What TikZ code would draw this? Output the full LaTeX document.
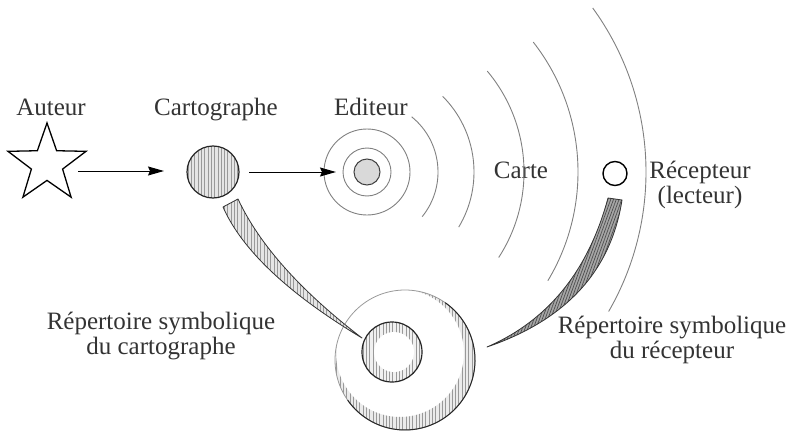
\documentclass[tikz,border=0pt]{standalone}
\usepackage{fontspec}
\setmainfont{Liberation Serif}
\usetikzlibrary{shapes.geometric,arrows.meta,patterns.meta}
\tikzset{
  lbl/.style={font=\fontsize{25}{25}\selectfont, text=black!80, inner sep=0pt, align=center, anchor=base},
  flow/.style={line width=1pt, -{Stealth[length=16pt,width=9pt,inset=2pt]}},
  wave/.style={draw=black!50, line width=0.9pt},
  vhatch/.style={pattern={Lines[angle=90,distance=3.3pt,line width=0.6pt]}, pattern color=black!40},
  dhatch/.style={pattern={Lines[angle=70,distance=2.6pt,line width=0.7pt]}, pattern color=black!70},
}
\begin{document}
\begin{tikzpicture}[x=1pt,y=-1pt]
\useasboundingbox (0,0) rectangle (789,433);
% labels
\node[lbl] (tauteur) at (51,116) {Auteur};
\node[lbl] (tcarto) at (216,116) {Cartographe};
\node[lbl] (tedit) at (371,116) {Editeur};
\node[lbl] (tcarte) at (521,178) {Carte};
\node[lbl] (trecep) at (700,203) {Récepteur\\(lecteur)};
\node[lbl] (trepc) at (161,354) {Répertoire symbolique\\du cartographe};
\node[lbl] (trepr) at (672,358) {Répertoire symbolique\\du récepteur};
% star
\node[star, star points=5, star point ratio=2.5, minimum size=82pt, inner sep=0pt, draw=black, line width=1.3pt] (auteur) at (47,164) {};
% cartographe
\node[circle, minimum size=52pt, inner sep=0pt, fill=black!10] (cartobg) at (213,172) {};
\node[circle, minimum size=52pt, inner sep=0pt, vhatch, draw=black!85, line width=1.2pt] (carto) at (213,172) {};
% editeur
\node[circle, minimum size=86pt, inner sep=0pt, wave] (edring2) at (367,172) {};
\node[circle, minimum size=48pt, inner sep=0pt, wave] (edring1) at (367,172) {};
\node[circle, minimum size=26pt, inner sep=0pt, fill=black!15, draw=black!75, line width=1pt] (edit) at (367,172) {};
\draw[wave] (edit.center) ++(-51:71) arc[start angle=-51, end angle=39, radius=71];
\draw[wave] (edit.center) ++(-45:107) arc[start angle=-45, end angle=31, radius=107];
\draw[wave] (edit.center) ++(-40:157) arc[start angle=-40, end angle=33, radius=157];
\draw[wave] (edit.center) ++(-38:211) arc[start angle=-38, end angle=31, radius=211];
\draw[wave] (edit.center) ++(-36:279) arc[start angle=-36, end angle=30, radius=279];
% recepteur
\node[circle, minimum size=24pt, inner sep=0pt, draw=black, line width=1.4pt] (recep) at (615,173.5) {};
% arrows
\coordinate (a1s) at (78,171);
\coordinate (a1e) at (164,171);
\coordinate (a2s) at (249,172);
\coordinate (a2e) at (336,172);
\draw[flow] (a1s) -- (a1e);
\draw[flow] (a2s) -- (a2e);
% repertoire
\node[circle, minimum size=140pt, inner sep=0pt, fill=white] (rep) at (405,360) {};
\begin{scope}
\clip (rep.center) circle[radius=70];
\fill[even odd rule, black!8] (rep.center) circle[radius=71] (400,353) circle[radius=64];
\fill[even odd rule, vhatch] (rep.center) circle[radius=71] (400,353) circle[radius=64];
\end{scope}
\draw[black!40, line width=0.8pt] (rep.center) circle[radius=70];
\draw[black!85, line width=1pt] (rep.center) ++(-55:70) arc[start angle=-55, end angle=145, radius=70];
\node[circle, minimum size=60pt, inner sep=0pt, fill=black!6] (repinbg) at (392,352) {};
\node[circle, minimum size=60pt, inner sep=0pt, vhatch, draw=black!85, line width=1.2pt] (repin) at (392,352) {};
\fill[white] (394,352) circle[radius=20];
% wedges
\coordinate (lw1) at (223,207);
\coordinate (lw2) at (238,199);
\coordinate (lwt) at (362,338);
\fill[black!10] (lw1) .. controls (242,250) and (288.3,293.7) .. (lwt) .. controls (300.7,291) and (259.3,244.7) .. (lw2) -- cycle;
\draw[vhatch, draw=black!80, line width=0.8pt, line join=round] (lw1) .. controls (242,250) and (288.3,293.7) .. (lwt) .. controls (300.7,291) and (259.3,244.7) .. (lw2) -- cycle;
\coordinate (rw1) at (608,198);
\coordinate (rw2) at (622,200);
\coordinate (rwt) at (487,347);
\fill[black!35] (rw1) .. controls (588.3,271) and (548,320.7) .. (rwt) .. controls (566,320) and (611,271) .. (rw2) -- cycle;
\draw[dhatch, draw=black!80, line width=0.8pt, line join=round] (rw1) .. controls (588.3,271) and (548,320.7) .. (rwt) .. controls (566,320) and (611,271) .. (rw2) -- cycle;
\end{tikzpicture}
\end{document}
